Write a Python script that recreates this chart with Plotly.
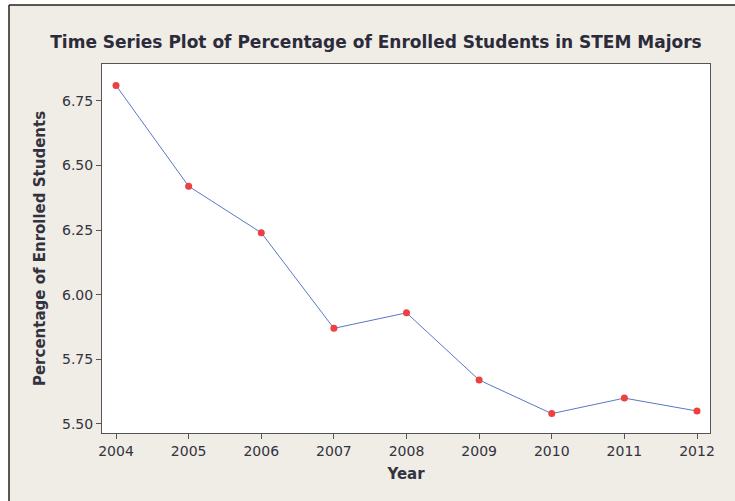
import plotly.graph_objects as go

years = [2004, 2005, 2006, 2007, 2008, 2009, 2010, 2011, 2012]
pct = [6.81, 6.42, 6.24, 5.87, 5.93, 5.67, 5.54, 5.60, 5.55]
y_ticks = [5.50, 5.75, 6.00, 6.25, 6.50, 6.75]
y_tick_labels = ["5.50", "5.75", "6.00", "6.25", "6.50", "6.75"]

W, H = 735, 501
L, R, T, B = 102, 710, 64, 433
pw, ph = R - L, B - T

def px(x):
    return (x - L) / pw

def py(y):
    return (B - y) / ph

beige = "#f0ece6"
fig = go.Figure()
fig.add_trace(go.Scatter(
    x=years, y=pct, mode="lines+markers",
    line=dict(color="#5b77c6", width=1),
    marker=dict(color="#ee4040", size=7),
    showlegend=False,
))

fig.update_layout(
    width=W, height=H,
    margin=dict(l=L, r=W - R, t=T, b=H - B),
    paper_bgcolor=beige, plot_bgcolor="white",
    title=dict(text="<b>Time Series Plot of Percentage of Enrolled Students in STEM Majors</b>",
               x=(376) / W, xanchor="center", y=1 - 42 / H, yanchor="middle",
               font=dict(family="DejaVu Sans", size=17, color="#2b2b3a")),
    font=dict(family="DejaVu Sans", color="#333340"),
)
fig.update_xaxes(
    range=[2003.807, 2012.179], tickvals=years, ticktext=[str(y) for y in years],
    ticks="outside", ticklen=5, tickcolor="#555", showgrid=False, zeroline=False,
    showline=True, linecolor="#555", linewidth=1, mirror=True,
    tickfont=dict(size=14),
    title=dict(text="<b>Year</b>", font=dict(size=15), standoff=10),
)
fig.update_yaxes(
    range=[5.465, 6.893], tickvals=y_ticks, ticktext=y_tick_labels,
    ticks="outside", ticklen=5, tickcolor="#555", showgrid=False, zeroline=False,
    showline=True, linecolor="#555", linewidth=1, mirror=True,
    tickfont=dict(size=14),
    title=dict(text="<b>Percentage of Enrolled Students</b>", font=dict(size=15), standoff=12),
)

# white outside the frame + black frame edges
fig.add_shape(type="rect", xref="paper", yref="paper", x0=px(-5), x1=px(9), y0=py(H + 5), y1=py(-5),
              fillcolor="white", line=dict(width=0), layer="below")
fig.add_shape(type="rect", xref="paper", yref="paper", x0=px(-5), x1=px(W + 5), y0=py(5), y1=py(-5),
              fillcolor="white", line=dict(width=0), layer="below")
fig.add_shape(type="line", xref="paper", yref="paper", x0=px(9), x1=px(9), y0=py(5), y1=py(H + 5),
              line=dict(color="#222", width=1.5))
fig.add_shape(type="line", xref="paper", yref="paper", x0=px(9), x1=px(W + 5), y0=py(5), y1=py(5),
              line=dict(color="#222", width=1.5))

fig.write_html("out.html", config={"displayModeBar": False},
               post_script="document.body.style.margin='0';document.body.style.overflow='hidden';")
